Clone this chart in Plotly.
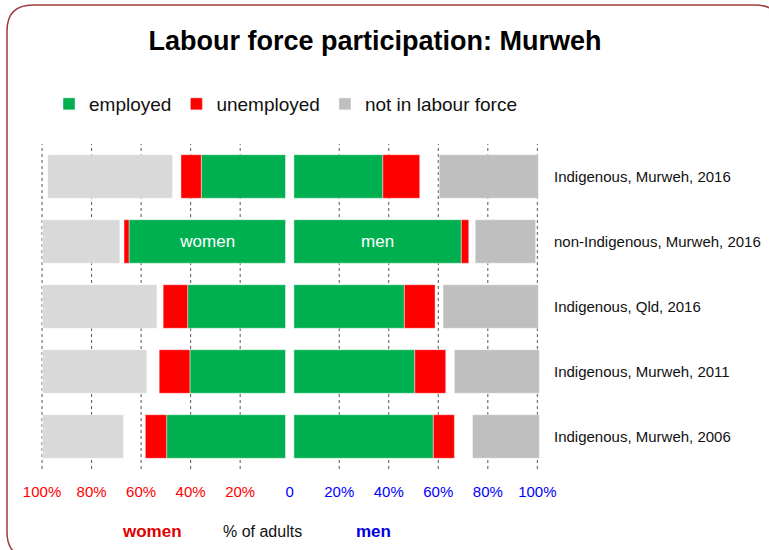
import plotly.graph_objects as go

# ---------------- data (percent of adults) ----------------
categories = [
    "Indigenous, Murweh, 2016",
    "non-Indigenous, Murweh, 2016",
    "Indigenous, Qld, 2016",
    "Indigenous, Murweh, 2011",
    "Indigenous, Murweh, 2006",
]
women_employed = [34.0, 63.2, 39.5, 38.6, 48.0]
women_unemployed = [8.2, 2.0, 9.9, 12.4, 8.6]
women_not_stated = [3.4, 1.7, 2.5, 5.0, 8.8]
women_nilf = [50.4, 31.2, 46.2, 42.1, 32.7]

men_employed = [35.9, 67.6, 44.6, 48.8, 56.3]
men_unemployed = [14.9, 3.0, 12.4, 12.5, 8.5]
men_not_stated = [7.9, 2.6, 3.2, 3.5, 7.3]
men_nilf = [40.0, 24.4, 38.5, 34.3, 27.0]

tick_values = [-100, -80, -60, -40, -20, 0, 20, 40, 60, 80, 100]
tick_labels = ["100%", "80%", "60%", "40%", "20%", "0", "20%", "40%", "60%", "80%", "100%"]
grid_values = [-100, -80, -60, -40, -20, 20, 40, 60, 80, 100]

# ---------------- style ----------------
GAP = 1.7
GREEN = "#00b050"
RED = "#ff0000"
GREY_W = "#d9d9d9"
GREY_M = "#bfbfbf"
FONT = "Liberation Sans, Arial, sans-serif"
W, H = 769, 550
ML, MR, MT, MB = 41, 229, 144, 81
PW, PH = W - ML - MR, H - MT - MB

fig = go.Figure()


def add_side(values_list, colors, names, sign, show, texts):
    cum = [GAP] * len(categories)
    for vals, col, name, sh, txt in zip(values_list, colors, names, show, texts):
        if col is not None:
            fig.add_trace(go.Bar(
                y=categories,
                x=[sign * v for v in vals],
                base=[sign * c for c in cum],
                orientation="h",
                marker=dict(color=col, line=dict(color="rgba(255,255,255,0.7)", width=0.6)),
                name=name,
                legendgroup=name,
                showlegend=sh,
                text=txt,
                textposition="inside" if txt else None,
                insidetextanchor="middle",
                textangle=0,
                textfont=dict(color="white", size=17, family=FONT),
                hoverinfo="x+y+name",
            ))
        cum = [c + v for c, v in zip(cum, vals)]


add_side(
    [women_employed, women_unemployed, women_not_stated, women_nilf],
    [GREEN, RED, None, GREY_W],
    ["employed", "unemployed", "not stated", "not in labour force"],
    -1,
    [True, True, False, False],
    [["", "women", "", "", ""], None, None, None],
)
add_side(
    [men_employed, men_unemployed, men_not_stated, men_nilf],
    [GREEN, RED, None, GREY_M],
    ["employed", "unemployed", "not stated", "not in labour force"],
    1,
    [False, False, False, True],
    [["", "men", "", "", ""], None, None, None],
)

# x range so that the scale matches the reference
scale = 2.4765  # px per percent
zero_px = 289.7
x_left = (ML - zero_px) / scale
x_right = x_left + PW / scale

ticktext = []
for v, t in zip(tick_values, tick_labels):
    col = "#ff0000" if v < 0 else "#0000ff"
    ticktext.append(f"<span style='color:{col}'>{t}</span>")

shapes = []
for g in grid_values:
    shapes.append(dict(type="line", xref="x", yref="paper", x0=g, x1=g, y0=0, y1=1,
                       line=dict(color="#555555", width=1, dash="dot"), layer="below"))


# rounded outer border (paper coordinates from pixels)
def px_x(p):
    return (p - ML) / PW


def px_y(p):
    return (H - MB - p) / PH


x0b, x1b, y0b, y1b, r = 7, 781, 5, 558, 26
pts = [
    ("M", [(x0b + r, y0b)]),
    ("L", [(x1b - r, y0b)]),
    ("Q", [(x1b, y0b), (x1b, y0b + r)]),
    ("L", [(x1b, y1b - r)]),
    ("Q", [(x1b, y1b), (x1b - r, y1b)]),
    ("L", [(x0b + r, y1b)]),
    ("Q", [(x0b, y1b), (x0b, y1b - r)]),
    ("L", [(x0b, y0b + r)]),
    ("Q", [(x0b, y0b), (x0b + r, y0b)]),
]
path = ""
for cmd, ps in pts:
    path += cmd + " ".join(f"{px_x(a):.5f},{px_y(b):.5f}" for a, b in ps) + " "
path += "Z"
shapes.append(dict(type="path", xref="paper", yref="paper", path=path,
                   line=dict(color="#a23b3b", width=1.5), fillcolor="rgba(0,0,0,0)"))

annotations = [
    dict(text="<b>women</b>", x=px_x(152), y=px_y(531), xref="paper", yref="paper",
         xanchor="center", yanchor="middle",
         showarrow=False, font=dict(color="#e00000", size=17, family=FONT)),
    dict(text="% of adults", x=px_x(262), y=px_y(531), xref="paper", yref="paper",
         xanchor="center", yanchor="middle",
         showarrow=False, font=dict(color="#111111", size=16, family=FONT)),
    dict(text="<b>men</b>", x=px_x(373), y=px_y(531), xref="paper", yref="paper",
         xanchor="center", yanchor="middle",
         showarrow=False, font=dict(color="#0000e0", size=17, family=FONT)),
]

fig.update_layout(
    width=W, height=H,
    margin=dict(l=ML, r=MR, t=MT, b=MB, pad=0, autoexpand=False),
    paper_bgcolor="white", plot_bgcolor="white",
    barmode="overlay", bargap=0.33,
    font=dict(family=FONT, color="#111111"),
    title=dict(text="<b>Labour force participation: Murweh</b>",
               x=375 / W, xanchor="center", y=1 - 41 / H, yanchor="middle",
               yref="container", font=dict(size=27, color="black", family=FONT)),
    legend=dict(orientation="h", x=px_x(49), xanchor="left", y=px_y(104), yanchor="middle",
                font=dict(size=19, family=FONT, color="#111111"),
                traceorder="normal", bgcolor="rgba(0,0,0,0)"),
    xaxis=dict(range=[x_left, x_right], tickvals=tick_values, ticktext=ticktext,
               showgrid=False, zeroline=False, showline=False, ticks="", automargin=False,
               ticklabelstandoff=12, tickfont=dict(size=15, family=FONT), fixedrange=True),
    yaxis=dict(type="category", categoryorder="array", categoryarray=categories,
               autorange="reversed", side="right", showgrid=False, zeroline=False,
               showline=False, ticks="", ticklabelstandoff=13, automargin=False,
               tickfont=dict(size=15, family=FONT, color="#111111"), fixedrange=True),
    shapes=shapes,
    annotations=annotations,
    showlegend=True,
)

fig.write_html("out.html",
               config={"displayModeBar": False},
               post_script="document.body.style.margin='0';document.body.style.overflow='hidden';")
